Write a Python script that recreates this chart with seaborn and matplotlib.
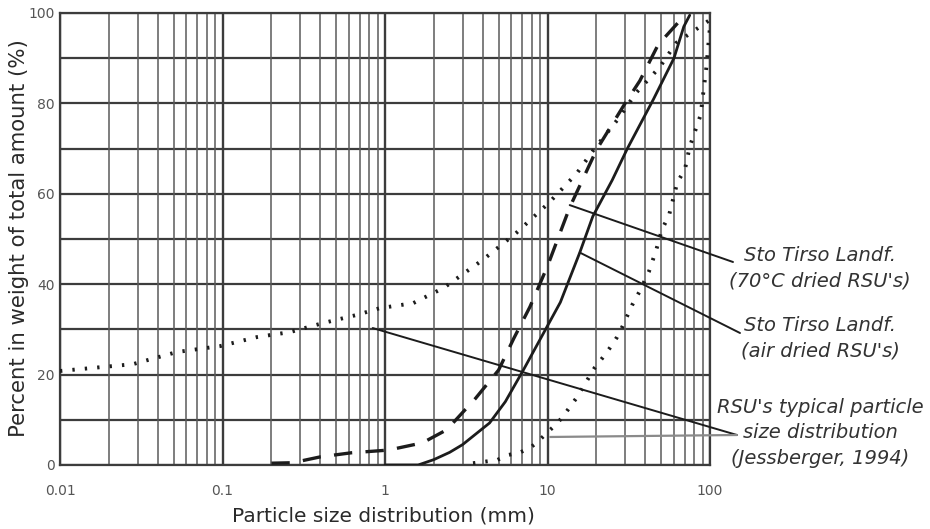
import numpy as np
import pandas as pd
import matplotlib
matplotlib.use("Agg")
import matplotlib.pyplot as plt
import seaborn as sns

# ---------------- data ----------------
air_x = [1.0, 1.6, 2.0, 2.5, 3.0, 4.4, 5.5, 7.1, 9.9, 12, 15.8, 19, 25, 31, 45, 60, 69, 75]
air_y = [0, 0, 1.2, 2.8, 4.5, 9.3, 14, 21, 30.5, 36, 47, 55, 63, 70, 81, 90, 97, 99.5]

dried70_x = [0.2, 0.27, 0.4, 0.62, 1.05, 1.7, 2.4, 3.6, 5.0, 6.2, 7.8, 10, 13.7, 20, 30, 37, 48, 66]
dried70_y = [0.4, 0.5, 1.8, 2.7, 3.3, 4.9, 7.8, 14.7, 21, 28, 35, 44, 57, 69.7, 80, 85, 93, 98.5]

typ_upper_x = [0.01, 0.028, 0.0525, 0.0965, 0.163, 0.26, 0.415, 0.67, 0.93, 1.49, 2.3, 4.0,
               6.4, 10.2, 15.2, 19.2, 27.8, 35, 49, 62, 87, 100]
typ_upper_y = [20.8, 22.3, 25, 26.3, 28.3, 29.4, 31.4, 33.2, 34.7, 35.8, 39.2, 45.4,
               51.3, 58, 64.6, 69.7, 77, 82.3, 88, 93.4, 97, 98.5]

typ_lower_x = [3.48, 4.9, 5.7, 6.7, 7.8, 8.7, 9.9, 11.0, 12.4, 13.7, 15.2, 19.5, 21.8, 24.2,
               26.8, 28.8, 33.2, 37, 42, 46.7, 50.5, 56, 58.5, 63, 70, 75, 87.5, 95, 100]
typ_lower_y = [0.4, 1.1, 2.2, 2.7, 3.8, 5.1, 7.1, 8.6, 10.6, 12.8, 15, 21.5, 23.7, 25.9,
               28.3, 30.5, 35.4, 38.5, 42.7, 47.6, 52, 55.3, 58, 62.6, 65.3, 70.4, 77.4, 88, 97]

x_ticks = [0.01, 0.1, 1, 10, 100]
x_tick_labels = ["0.01", "0.1", "1", "10", "100"]
y_ticks = [0, 20, 40, 60, 80, 100]
y_tick_labels = ["0", "20", "40", "60", "80", "100"]

x_label = "Particle size distribution (mm)"
y_label = "Percent in weight of total amount (%)"
annot_texts = [
    "Sto Tirso Landf.\n(70°C dried RSU's)",
    "Sto Tirso Landf.\n(air dried RSU's)",
    "RSU's typical particle\nsize distribution\n(Jessberger, 1994)",
]
# points on the curves where the leader lines start (data units)
leader_70 = (13.7, 57.5)
leader_air = (15.8, 47)
leader_typ_up = (0.84, 30.3)
leader_typ_low = (10.4, 6.2)

# ---------------- figure ----------------
sns.set_theme(style="white")
plt.rcParams["font.family"] = ["DejaVu Sans"]

W, H = 930, 529
fig = plt.figure(figsize=(W / 100, H / 100), dpi=100)
ax = fig.add_axes([60 / W, 1 - 465 / H, 650 / W, 452 / H])
ax.set_xscale("log")
ax.set_xlim(0.01, 100)
ax.set_ylim(0, 100)

ink = "#1c1c1c"
grid_c = "#3c3c3c"

# grid
for v in range(0, 101, 10):
    ax.axhline(v, color=grid_c, lw=1.6, zorder=1)
for dec in [0.01, 0.1, 1, 10]:
    for m in range(1, 10):
        xv = dec * m
        ax.axvline(xv, color=grid_c if m == 1 else "#5a5a5a",
                   lw=1.7 if m == 1 else 1.1, zorder=1)
ax.axvline(100, color=grid_c, lw=1.7, zorder=1)

df_air = pd.DataFrame({"x": air_x, "y": air_y})
df_70 = pd.DataFrame({"x": dried70_x, "y": dried70_y})
df_up = pd.DataFrame({"x": typ_upper_x, "y": typ_upper_y})
df_low = pd.DataFrame({"x": typ_lower_x, "y": typ_lower_y})

sns.lineplot(data=df_air, x="x", y="y", ax=ax, color=ink, lw=2.0, sort=False,
             estimator=None, zorder=4)
sns.lineplot(data=df_70, x="x", y="y", ax=ax, color=ink, lw=2.4, sort=False,
             estimator=None, zorder=4, linestyle=(0, (5.5, 4)))
for d in (df_up, df_low):
    sns.lineplot(data=d, x="x", y="y", ax=ax, color=ink, lw=2.8, sort=False,
                 estimator=None, zorder=4, linestyle=(0, (0.6, 2.6)))

ax.set_xticks(x_ticks)
ax.set_xticklabels(x_tick_labels)
ax.set_xticks([], minor=True)
ax.set_yticks(y_ticks)
ax.set_yticklabels(y_tick_labels)
ax.tick_params(axis="both", length=0, labelsize=10, labelcolor="#555555")
ax.tick_params(axis="x", pad=14)
ax.tick_params(axis="y", pad=4)
ax.set_xlabel("")
ax.set_ylabel("")

for s in ax.spines.values():
    s.set_visible(True)
    s.set_color(grid_c)
    s.set_linewidth(1.6)

fig.text(383 / W, 1 - 516 / H, x_label, ha="center", va="center",
         fontsize=14.5, color="#2a2a2a")
fig.text(19 / W, 1 - 238 / H, y_label, ha="center", va="center", rotation=90,
         fontsize=15.3, color="#2a2a2a")

# annotations
tx = 820 / W
tcol = "#333333"
for txt, yc in zip(annot_texts, [268, 338, 433]):
    fig.text(tx, 1 - yc / H, txt, ha="center", va="center", fontsize=14,
             style="italic", color=tcol, linespacing=1.45)

lp = dict(arrowstyle="-", shrinkA=0, shrinkB=0, lw=1.4, color=ink)
ax.annotate("", xy=leader_70, xycoords="data", xytext=(733 / W, 1 - 262 / H),
            textcoords="figure fraction", arrowprops=lp, annotation_clip=False)
ax.annotate("", xy=leader_air, xycoords="data", xytext=(740 / W, 1 - 333 / H),
            textcoords="figure fraction", arrowprops=lp, annotation_clip=False)
ax.annotate("", xy=leader_typ_up, xycoords="data", xytext=(737 / W, 1 - 435 / H),
            textcoords="figure fraction", arrowprops=lp, annotation_clip=False)
ax.annotate("", xy=leader_typ_low, xycoords="data", xytext=(737 / W, 1 - 435 / H),
            textcoords="figure fraction",
            arrowprops=dict(lp, color="#8a8a8a", lw=1.6), annotation_clip=False)

fig.savefig("out.png", dpi=100)
